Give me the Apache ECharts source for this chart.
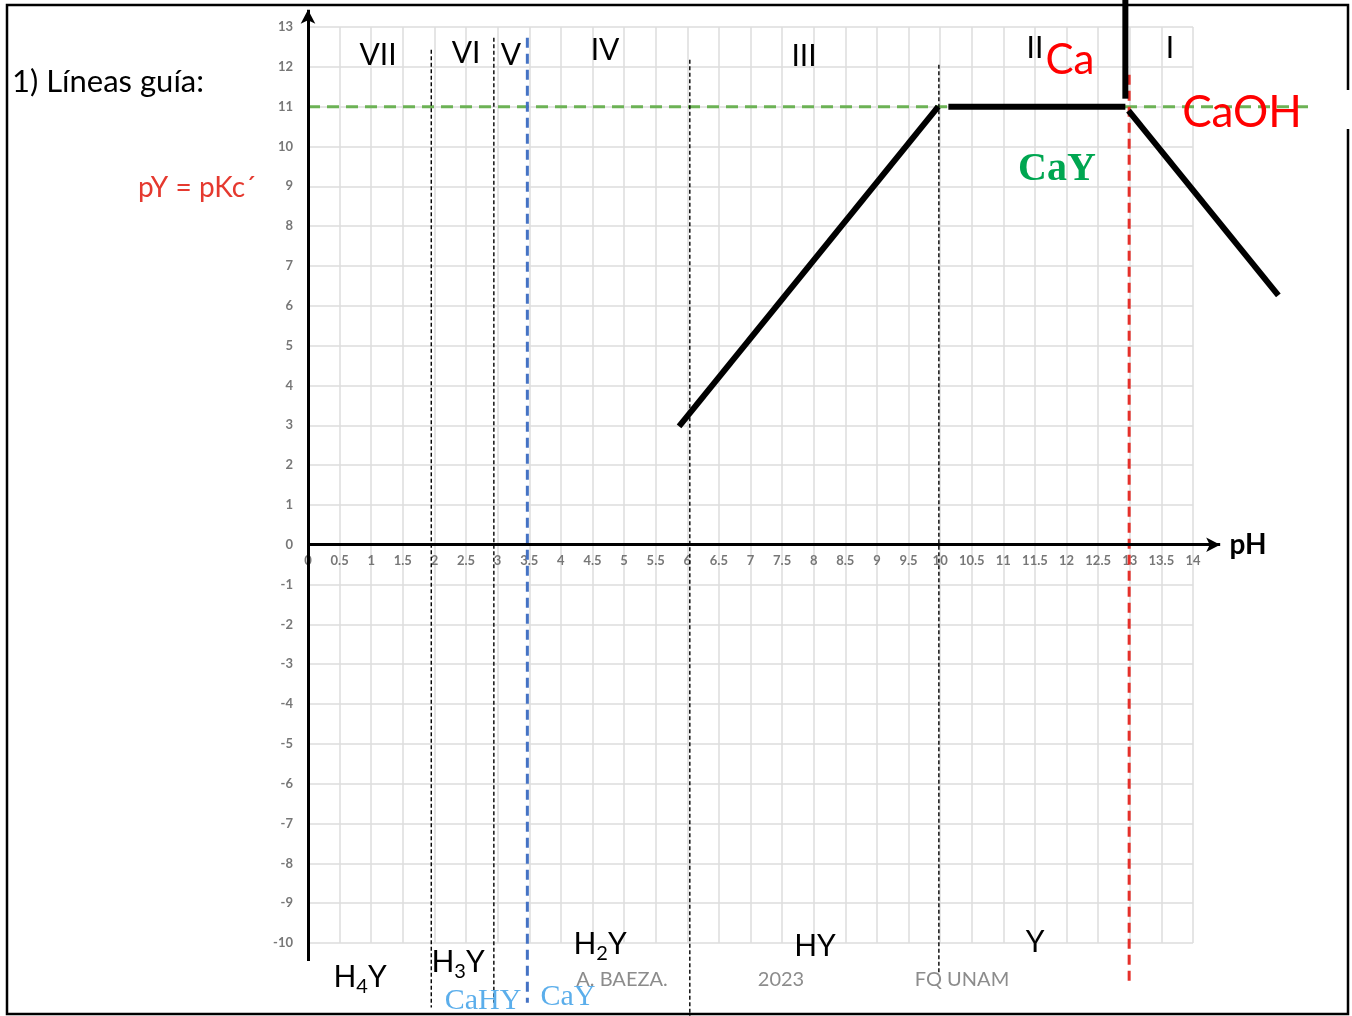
<!DOCTYPE html>
<html><head><meta charset="utf-8">
<script src="https://cdn.jsdelivr.net/npm/echarts@6/dist/echarts.min.js"></script>
<style>html,body{margin:0;padding:0;background:#fff}#c{width:1352px;height:1016px}</style>
</head><body><div id="c"></div>
<script>
// ---- data ----
const xRange = [0, 14];           // pH axis
const yRange = [-10, 13];         // pY axis
const xStep = 0.5, yStep = 1;
const guideLevel = 11;            // pY = pKc'
const guideLevelEnd = 15.85;
// vertical guide lines: pH, top pY, bottom pY
const blackGuidesX = [1.95, 2.94, 6.04, 9.98];
const blackGuidesTop = [12.43, 12.73, 12.18, 12.05];
const blackGuidesBottom = [-11.62, -11.5, -11.83, -10.8];
const blueGuideX = 3.47, blueGuideTop = 12.73, blueGuideBottom = -11.5;
const redGuideX = 12.99, redGuideTop = 11.8, redGuideBottom = -11.0;
// thick black segments of the existence diagram
const segA = [[5.87, 2.97], [9.97, 11.0]];
const segB = [[10.13, 11.0], [12.93, 11.0]];
const segC = [[12.93, 11.2], [12.93, 13.7]];
const segD = [[12.98, 10.9], [15.35, 6.26]];
const xAxisLine = [[0, 0], [14.43, 0]];
const yAxisLine = [[0, -10.45], [0, 13.43]];
const zonesTop = ['VII', 'VI', 'V', 'IV', 'III', 'II', 'I'];

// ---- layout ----
const L = 308, T = 27, W = 885, H = 916;
const pxX = W / (xRange[1] - xRange[0]);
const pxY = H / (yRange[1] - yRange[0]);
const x2Max = 16;
const y2Max = yRange[1] + T / pxY;
const y2Min = yRange[0] - (1016 - T - H) / pxY;
const zeroOffset = -(H - yRange[1] * pxY);   // lift x labels to pY = 0

const chart = echarts.init(document.getElementById('c'), null, {renderer: 'canvas'});

function seg(pts, color, width, type, z) {
  return {type: 'line', xAxisIndex: 1, yAxisIndex: 1, data: pts, symbol: 'none',
    lineStyle: {color: color, width: width, type: type || 'solid', cap: 'butt'},
    silent: true, animation: false, z: z || 3};
}
const series = [];
series.push(seg([[0, guideLevel], [guideLevelEnd, guideLevel]], '#6CB255', 3, [12, 7], 2));
blackGuidesX.forEach((x, i) => series.push(seg([[x, blackGuidesTop[i]], [x, blackGuidesBottom[i]]], '#000', 1.4, [4, 2.5], 2)));
series.push(seg([[blueGuideX, blueGuideTop], [blueGuideX, blueGuideBottom]], '#4472C4', 3, [10, 6], 2));
series.push(seg([[redGuideX, redGuideTop], [redGuideX, redGuideBottom]], '#E5302A', 3, [10, 6], 2));
[segA, segB, segC, segD].forEach(s => series.push(seg(s, '#000', 6, 'solid', 5)));
// axes with arrows
series.push({type: 'line', xAxisIndex: 1, yAxisIndex: 1, silent: true, animation: false, z: 4,
  data: [], symbol: 'none',
  markLine: {silent: true, animation: false, symbol: ['none', 'arrow'], symbolSize: [11, 14], label: {show: false},
    lineStyle: {color: '#000', width: 3, type: 'solid'},
    data: [
      [{coord: xAxisLine[0]}, {coord: xAxisLine[1]}],
      [{coord: yAxisLine[0]}, {coord: yAxisLine[1]}]
    ]}
});

const tickFont = {color: '#777', fontSize: 13, fontWeight: 'bold', fontFamily: 'Lato, "Open Sans", sans-serif'};
const F = 'Lato, "Noto Sans", sans-serif';
function txt(text, cx, cy, size, color, extra) {
  return Object.assign({type: 'text', x: cx, y: cy, silent: true, z: 10,
    style: Object.assign({text: text, fontSize: size, fill: color, fontFamily: F, align: 'center', verticalAlign: 'middle'}, extra || {})});
}
function subTxt(main1, sub, main2, cx, cy) {
  return {type: 'text', x: cx, y: cy, silent: true, z: 10,
    style: {text: '{n|' + main1 + '}' + (sub ? '{s|' + sub + '}' : '') + '{n|' + main2 + '}',
      align: 'center', verticalAlign: 'middle',
      rich: {n: {fontSize: 30, fontFamily: F, fill: '#000', lineHeight: 40, verticalAlign: 'middle'},
             s: {fontSize: 20, fontFamily: F, fill: '#000', lineHeight: 40, verticalAlign: 'bottom'}}}};
}
const topPos = [[378, 55], [466, 53], [511, 55], [605, 50], [804, 56], [1035, 48], [1170, 48]];
const graphics = [];
zonesTop.forEach((z, i) => graphics.push(txt(z, topPos[i][0], topPos[i][1], 30, '#000')));
graphics.push(txt('1) Líneas guía:', 12, 82, 31, '#000', {align: 'left'}));
graphics.push(txt('pY = pKc´', 138, 188, 28, '#E5392F', {align: 'left'}));
graphics.push(txt('pH', 1248, 545, 28, '#000', {fontWeight: 'bold'}));
graphics.push(txt('Ca', 1070, 60, 42, '#FF0000'));
graphics.push(txt('CaOH', 1242, 113, 44, '#FF0000'));
graphics.push(txt('CaY', 1057, 170, 40, '#00A651', {fontWeight: 'bold', fontFamily: '"Liberation Serif", "DejaVu Serif", serif'}));
graphics.push(subTxt('H', '4', 'Y', 360, 977));
graphics.push(subTxt('H', '3', 'Y', 458, 962));
graphics.push(subTxt('H', '2', 'Y', 600, 944));
graphics.push(subTxt('HY', '', '', 815, 946));
graphics.push(subTxt('Y', '', '', 1035, 942));
graphics.push(txt('CaHY', 483, 1001, 30, '#5BAEEB', {fontFamily: '"Liberation Serif", "DejaVu Serif", serif'}));
graphics.push(txt('CaY', 568, 997, 30, '#5BAEEB', {fontFamily: '"Liberation Serif", "DejaVu Serif", serif'}));
graphics.push(txt('A. BAEZA.', 622, 980, 20, '#8c8c8c'));
graphics.push(txt('2023', 781, 980, 20, '#8c8c8c'));
graphics.push(txt('FQ UNAM', 962, 980, 20, '#8c8c8c'));
// frame
const fr = {stroke: '#000', lineWidth: 2.5};
graphics.push({type: 'polyline', silent: true, z: 20, shape: {points: [[1348, 90], [1348, 5], [7, 5], [7, 1014], [1348, 1014], [1348, 129]]}, style: Object.assign({fill: null}, fr)});

chart.setOption({
  animation: false,
  backgroundColor: '#fff',
  grid: [
    {left: L, top: T, width: W, height: H},
    {left: L, top: 0, width: x2Max * pxX, height: 1016}
  ],
  xAxis: [
    {type: 'value', gridIndex: 0, min: xRange[0], max: xRange[1], interval: xStep, position: 'bottom', offset: zeroOffset,
      axisLine: {show: false, onZero: false}, axisTick: {show: false},
      axisLabel: Object.assign({margin: 10, showMaxLabel: true, showMinLabel: true}, tickFont),
      splitLine: {show: true, lineStyle: {color: '#dcdcdc', width: 1.5}}},
    {type: 'value', gridIndex: 1, min: 0, max: x2Max, show: false}
  ],
  yAxis: [
    {type: 'value', gridIndex: 0, min: yRange[0], max: yRange[1], interval: yStep,
      axisLine: {show: false}, axisTick: {show: false},
      axisLabel: Object.assign({margin: 15}, tickFont),
      splitLine: {show: true, lineStyle: {color: '#dcdcdc', width: 1.5}}},
    {type: 'value', gridIndex: 1, min: y2Min, max: y2Max, show: false}
  ],
  series: series,
  graphic: graphics
});
</script></body></html>
